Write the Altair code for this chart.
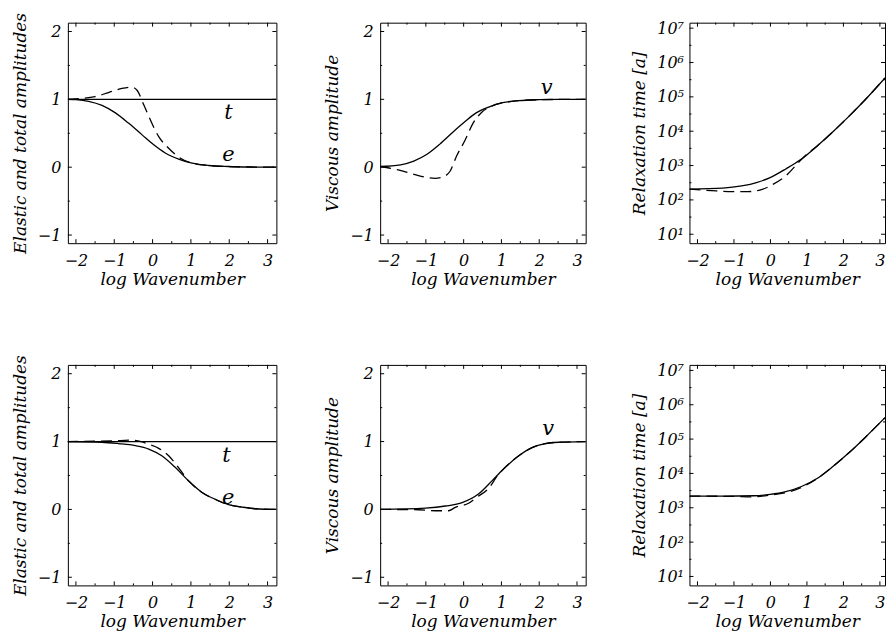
import altair as alt
import pandas as pd

# ---------------- data ----------------
# Top row
tl_e_x = [-2.21, -2.0, -1.67, -1.32, -0.97, -0.63, -0.28, 0.03, 0.33, 0.68, 1.03, 1.46, 1.98, 2.5, 3.23]
tl_e_y = [1.0, 0.995, 0.97, 0.91, 0.80, 0.65, 0.48, 0.33, 0.21, 0.12, 0.06, 0.025, 0.01, 0.003, 0.0]
tl_ed_x = [-2.21, -1.9, -1.5, -1.15, -0.8, -0.54, -0.4, -0.23, -0.1, 0.16, 0.42, 0.68, 1.03, 1.46, 1.98, 2.5, 3.23]
tl_ed_y = [1.0, 1.01, 1.04, 1.10, 1.16, 1.18, 1.13, 0.92, 0.75, 0.45, 0.28, 0.15, 0.06, 0.025, 0.01, 0.003, 0.0]
tl_t_x = [-2.21, 3.23]
tl_t_y = [1.0, 1.0]

tm_v_x = [-2.21, -1.67, -1.32, -0.97, -0.63, -0.28, 0.03, 0.33, 0.68, 1.03, 1.46, 1.98, 2.5, 3.23]
tm_v_y = [0.01, 0.035, 0.09, 0.19, 0.34, 0.52, 0.67, 0.80, 0.89, 0.95, 0.98, 0.995, 1.0, 1.0]
tm_vd_x = [-2.21, -1.73, -1.29, -0.94, -0.76, -0.58, -0.36, -0.19, 0.04, 0.25, 0.48, 0.74, 1.03, 1.46, 1.98, 3.23]
tm_vd_y = [0.01, -0.04, -0.11, -0.155, -0.165, -0.15, -0.06, 0.16, 0.40, 0.65, 0.81, 0.90, 0.95, 0.98, 0.995, 1.0]

tr_x = [-2.22, -1.31, -0.79, -0.36, -0.01, 0.42, 0.85, 1.29, 1.72, 2.15, 2.59, 3.14]
tr_t = [205, 220, 255, 325, 445, 795, 1550, 3800, 9800, 27000, 81000, 355000]
tr_d_x = [-2.22, -1.48, -1.05, -0.62, -0.27, 0.08, 0.42, 0.77, 1.0, 1.29, 1.72, 2.15, 2.59, 3.14]
tr_d_t = [205, 182, 174, 174, 195, 288, 500, 1230, 2140, 3800, 9800, 27000, 81000, 355000]

# Bottom row
bl_e_x = [-2.23, -1.32, -0.89, -0.45, -0.10, 0.24, 0.59, 0.94, 1.29, 1.63, 1.98, 2.33, 2.68, 3.23]
bl_e_y = [1.0, 0.99, 0.97, 0.94, 0.89, 0.79, 0.62, 0.42, 0.25, 0.15, 0.07, 0.035, 0.01, 0.0]
bl_ed_x = [-2.23, -1.5, -1.0, -0.6, -0.3, -0.1, 0.16, 0.42, 0.59, 0.94, 1.29, 1.63, 1.98, 2.33, 2.68, 3.23]
bl_ed_y = [1.0, 1.005, 1.01, 1.02, 1.0, 0.96, 0.90, 0.79, 0.68, 0.42, 0.25, 0.15, 0.07, 0.035, 0.01, 0.0]
bl_t_x = [-2.23, 3.23]
bl_t_y = [1.0, 1.0]

bm_v_x = [-2.21, -1.01, -0.48, -0.04, 0.40, 0.75, 1.10, 1.46, 1.81, 2.16, 2.51, 3.23]
bm_v_y = [0.0, 0.02, 0.05, 0.10, 0.23, 0.42, 0.62, 0.79, 0.91, 0.97, 0.99, 1.0]
bm_vd_x = [-2.21, -1.2, -0.75, -0.4, -0.22, 0.13, 0.35, 0.66, 0.9, 1.10, 1.46, 1.81, 2.16, 2.51, 3.23]
bm_vd_y = [0.0, -0.005, -0.02, -0.02, 0.03, 0.09, 0.18, 0.31, 0.50, 0.62, 0.79, 0.91, 0.97, 0.99, 1.0]

br_x = [-2.22, -1.31, -0.44, -0.01, 0.42, 0.85, 1.29, 1.72, 2.15, 2.59, 3.14]
br_t = [2190, 2190, 2240, 2450, 2950, 4170, 7240, 16200, 39800, 110000, 420000]
br_d_x = [-2.22, -1.0, -0.5, 0.0, 0.5, 0.8, 1.29, 1.72, 2.15, 2.59, 3.14]
br_d_t = [2190, 2140, 2090, 2340, 2880, 3720, 7240, 16200, 39800, 110000, 420000]

# curve labels
tl_lab = {"x": [1.98, 1.98], "y": [0.80, 0.18], "label": ["t", "e"]}
tm_lab = {"x": [2.2], "y": [1.17], "label": ["v"]}
bl_lab = {"x": [1.93, 1.97], "y": [0.79, 0.175], "label": ["t", "e"]}
bm_lab = {"x": [2.24], "y": [1.19], "label": ["v"]}

# axes
X_MAJOR = [-2, -1, 0, 1, 2, 3]
X_MINOR = [-1.5, -0.5, 0.5, 1.5, 2.5]
Y_MAJOR = [-1, 0, 1, 2]
Y_MINOR = [-0.5, 0.5, 1.5]
L_MAJOR = [1e1, 1e2, 1e3, 1e4, 1e5, 1e6, 1e7]
L_MINOR = [10 ** 1.5, 10 ** 2.5, 10 ** 3.5, 10 ** 4.5, 10 ** 5.5, 10 ** 6.5]

XDOM = [-2.21, 3.23]
XDOM3 = [-2.22, 3.14]
YDOM = [-1.12, 2.13]
LDOM = [10 ** 0.74, 10 ** 7.16]

FONT = "DejaVu Serif"
H = 221


def panel(lines, labels, ytitle, w, xdom, ydom, ylog=False):
    xs = alt.Scale(domain=xdom, nice=False, zero=False)
    if ylog:
        ys = alt.Scale(type="log", domain=ydom, nice=False)
        yaxis = alt.Axis(values=L_MAJOR, tickSize=0, domain=False, grid=False, title=ytitle,
                         labelPadding=6, titlePadding=8,
                         labelExpr="'10' + ['\u2070','\u00b9','\u00b2','\u00b3','\u2074','\u2075','\u2076','\u2077'][round(log(datum.value)/LN10)]")
        ymaj, ymin = L_MAJOR, L_MINOR
    else:
        ys = alt.Scale(domain=ydom, nice=False, zero=False)
        yaxis = alt.Axis(values=Y_MAJOR, format="d", tickSize=0, domain=False, grid=False,
                         title=ytitle, labelPadding=7, titlePadding=8)
        ymaj, ymin = Y_MAJOR, Y_MINOR
    xaxis = alt.Axis(values=X_MAJOR, format="d", tickSize=0, domain=False, grid=False,
                     title="log Wavenumber", labelPadding=9, titlePadding=3)
    X = alt.X("x:Q", scale=xs, axis=xaxis)
    Y = alt.Y("y:Q", scale=ys, axis=yaxis)

    layers = []
    for xv, yv, dashed in lines:
        df = pd.DataFrame({"x": xv, "y": yv})
        kw = dict(color="black", strokeWidth=1.3, clip=True, interpolate="monotone")
        if dashed:
            kw["strokeDash"] = [11, 6]
        layers.append(alt.Chart(df).mark_line(**kw).encode(x=X, y=Y))

    for vals, ln in ((X_MAJOR, 4), (X_MINOR, 2)):
        d = pd.DataFrame({"x": vals})
        layers.append(alt.Chart(d).mark_rule(color="black", strokeWidth=1).encode(
            x=X, y=alt.value(H), y2=alt.value(H - ln)))
        layers.append(alt.Chart(d).mark_rule(color="black", strokeWidth=1).encode(
            x=X, y=alt.value(0), y2=alt.value(ln)))
    for vals, ln in ((ymaj, 4), (ymin, 2)):
        d = pd.DataFrame({"y": vals})
        layers.append(alt.Chart(d).mark_rule(color="black", strokeWidth=1).encode(
            y=Y, x=alt.value(0), x2=alt.value(ln)))
        layers.append(alt.Chart(d).mark_rule(color="black", strokeWidth=1).encode(
            y=Y, x=alt.value(w), x2=alt.value(w - ln)))

    if labels is not None:
        d = pd.DataFrame(labels)
        layers.append(alt.Chart(d).mark_text(font=FONT, fontSize=21, fontStyle="italic",
                                             color="black").encode(x=X, y=Y, text="label:N"))

    return alt.layer(*layers).properties(width=w, height=H)


p1 = panel([(tl_t_x, tl_t_y, False), (tl_e_x, tl_e_y, False), (tl_ed_x, tl_ed_y, True)],
           tl_lab, "Elastic and total amplitudes", 209, XDOM, YDOM)
p2 = panel([(tm_v_x, tm_v_y, False), (tm_vd_x, tm_vd_y, True)],
           tm_lab, "Viscous amplitude", 206, XDOM, YDOM)
p3 = panel([(tr_x, tr_t, False), (tr_d_x, tr_d_t, True)],
           None, "Relaxation time [a]", 196, XDOM3, LDOM, ylog=True)
p4 = panel([(bl_t_x, bl_t_y, False), (bl_e_x, bl_e_y, False), (bl_ed_x, bl_ed_y, True)],
           bl_lab, "Elastic and total amplitudes", 209, XDOM, YDOM)
p5 = panel([(bm_v_x, bm_v_y, False), (bm_vd_x, bm_vd_y, True)],
           bm_lab, "Viscous amplitude", 206, XDOM, YDOM)
p6 = panel([(br_x, br_t, False), (br_d_x, br_d_t, True)],
           None, "Relaxation time [a]", 196, XDOM3, LDOM, ylog=True)

row1 = alt.hconcat(p1, p2, p3, spacing=104, bounds="flush")
row2 = alt.hconcat(p4, p5, p6, spacing=104, bounds="flush")

chart = alt.vconcat(row1, row2, spacing=66).configure_view(
    stroke="black", strokeWidth=1
).configure_axis(
    labelFont=FONT, titleFont=FONT, labelFontStyle="italic", titleFontStyle="italic",
    labelFontSize=16, titleFontSize=17, titleFontWeight="normal",
    labelColor="black", titleColor="black"
).properties(padding={"left": 2, "top": 3, "right": 0, "bottom": 0}, background="white")

chart.save("out.html", embed_options={"renderer": "svg", "actions": False})
